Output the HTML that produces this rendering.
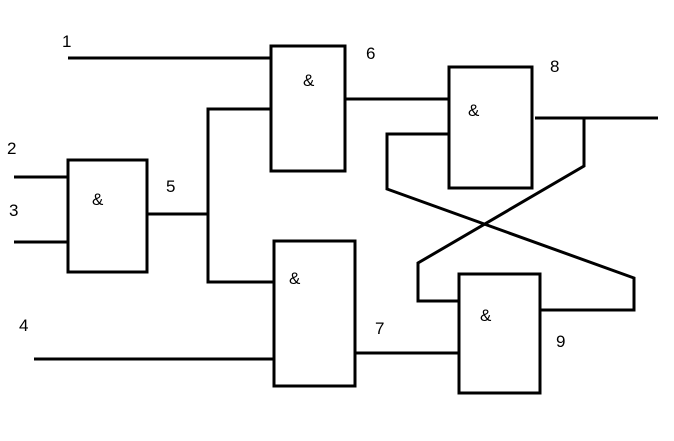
<!DOCTYPE html>
<html><head><meta charset="utf-8"><style>
html,body{margin:0;padding:0;background:#fff}
svg{display:block}
text{font-family:"Liberation Sans",sans-serif;font-size:17px;fill:#000}
</style></head><body>
<svg width="674" height="441" viewBox="0 0 674 441" xmlns="http://www.w3.org/2000/svg">
<g fill="none" stroke="#000" stroke-width="3" stroke-linejoin="miter">
<rect x="68" y="160" width="79" height="112"/>
<rect x="271" y="46" width="74" height="125"/>
<rect x="274" y="241" width="81" height="145"/>
<rect x="449" y="67" width="83" height="121"/>
<rect x="459" y="274" width="81" height="119"/>
<line x1="68" y1="58" x2="271" y2="58"/>
<line x1="14" y1="177" x2="68" y2="177"/>
<line x1="14" y1="242" x2="68" y2="242"/>
<line x1="147" y1="214" x2="208" y2="214"/>
<polyline points="271,109 208,109 208,282 274,282"/>
<line x1="34" y1="359" x2="274" y2="359"/>
<line x1="345" y1="99" x2="449" y2="99"/>
<line x1="355" y1="353" x2="459" y2="353"/>
<line x1="535" y1="118" x2="658" y2="118"/>
<polyline points="584,118 584,166 418,263 418,301 459,301"/>
<polyline points="449,134 387,134 387,189 634,278 634,310 540,310"/>
</g>
<text x="62" y="47">1</text>
<text x="7" y="154">2</text>
<text x="9" y="216">3</text>
<text x="19" y="331">4</text>
<text x="166" y="192">5</text>
<text x="366" y="59">6</text>
<text x="375" y="334">7</text>
<text x="550" y="72">8</text>
<text x="556" y="347">9</text>
<text x="92" y="205">&amp;</text>
<text x="303" y="86">&amp;</text>
<text x="289" y="284">&amp;</text>
<text x="468" y="116">&amp;</text>
<text x="480" y="321">&amp;</text>
</svg>
</body></html>
